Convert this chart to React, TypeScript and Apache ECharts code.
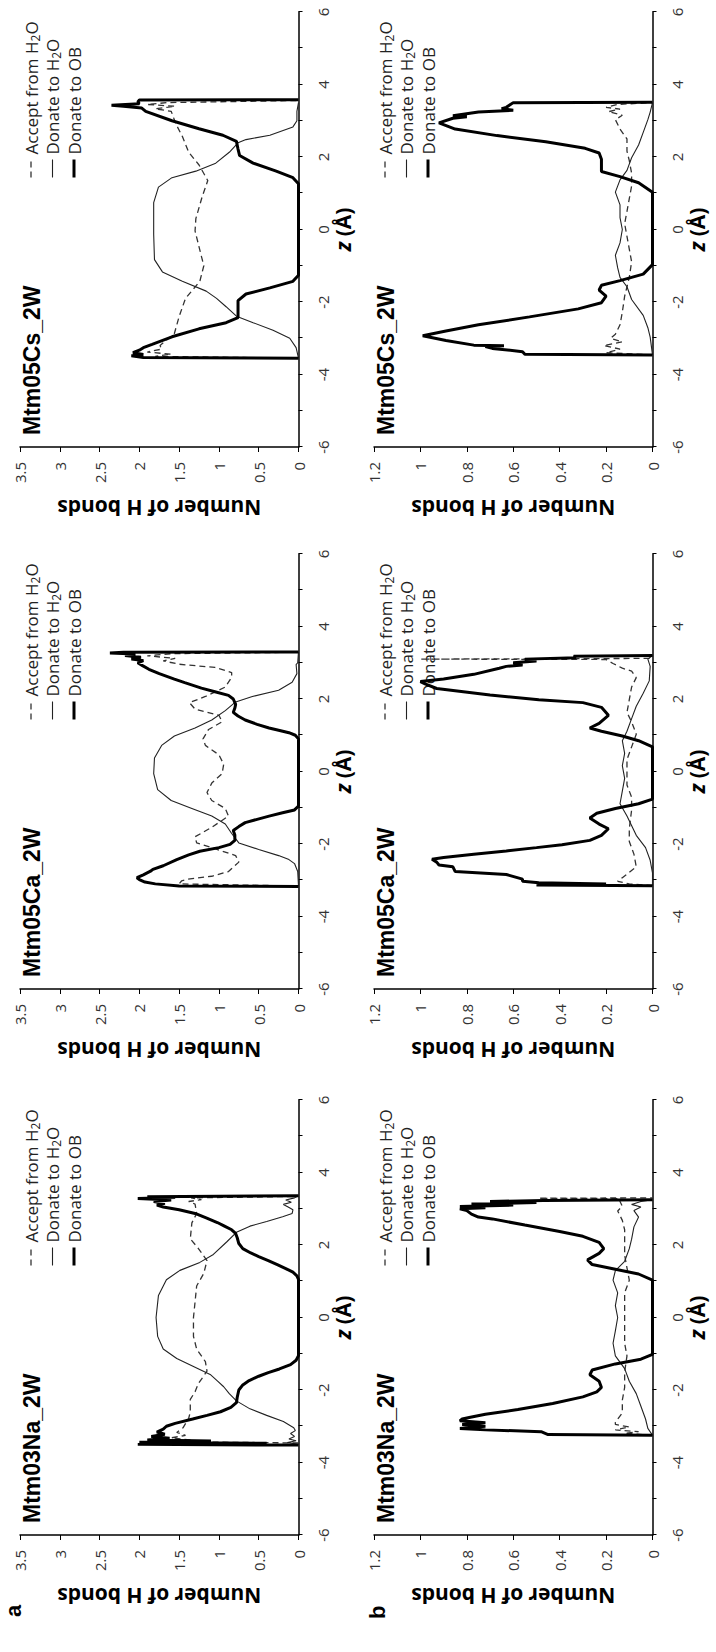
import React, { useEffect, useRef } from "react";
import * as echarts from "echarts";

// ---------------- text & axis values ----------------
const panelTitles = ["Mtm03Na_2W", "Mtm05Ca_2W", "Mtm05Cs_2W"];
const rowLetters = ["a", "b"];
const seriesNames = ["Accept from H2O", "Donate to H2O", "Donate to OB"];
const zMin = -6;
const zMax = 6;
const zInterval = 1;
const rowAxisMax = [3.5, 1.2];
const rowAxisInterval = [0.5, 0.2];
const yAxisName = "Number of H bonds";
const xAxisName = "{i|z} (Å)";

// ---------------- data: [z (Å), number of H bonds] ----------------
// Row a, Mtm03Na_2W
const naA_accept = [[-3.46,0],[-3.43,1.55],[-3.38,1.35],[-3.32,1.6],[-3.25,1.42],[-3.17,1.53],[-3.04,1.45],[-2.78,1.38],[-2.61,1.36],[-2.26,1.36],[-2.05,1.3],[-1.83,1.26],[-1.48,1.15],[-1.22,1.17],[-0.87,1.28],[-0.52,1.32],[0,1.32],[0.43,1.3],[0.87,1.28],[1.22,1.19],[1.57,1.15],[1.91,1.26],[2.17,1.36],[2.61,1.34],[2.87,1.28],[3.13,1.3],[3.2,1.38],[3.25,1.22],[3.3,1.35],[3.34,0]];
const naA_donateH2O = [[-3.5,0],[-3.45,0.14],[-3.4,0.03],[-3.35,0.12],[-3.28,0.05],[-3.2,0.1],[-3.12,0.04],[-3.04,0.06],[-2.87,0.19],[-2.7,0.4],[-2.52,0.61],[-2.3,0.78],[-2.1,0.87],[-1.91,0.94],[-1.75,1.02],[-1.57,1.11],[-1.35,1.32],[-1.13,1.53],[-0.87,1.7],[-0.52,1.77],[0,1.79],[0.61,1.76],[1.04,1.66],[1.3,1.49],[1.52,1.24],[1.74,1.07],[2.09,0.9],[2.35,0.78],[2.52,0.61],[2.65,0.4],[2.78,0.2],[2.87,0.08],[2.97,0.07],[3.05,0.13],[3.12,0.19],[3.18,0.09],[3.24,0.16],[3.3,0.05],[3.36,0]];
const naA_donateOB = [[-3.52,0],[-3.5,2.02],[-3.47,0.4],[-3.44,2.0],[-3.41,1.1],[-3.38,1.9],[-3.33,1.62],[-3.28,1.85],[-3.22,1.68],[-3.16,1.78],[-3.08,1.7],[-3.0,1.66],[-2.92,1.55],[-2.8,1.33],[-2.7,1.15],[-2.6,0.98],[-2.48,0.85],[-2.35,0.78],[-2.2,0.77],[-2.0,0.75],[-1.86,0.7],[-1.74,0.62],[-1.62,0.5],[-1.52,0.38],[-1.42,0.24],[-1.3,0.1],[-1.18,0.03],[-1.05,0],[1.05,0],[1.15,0.02],[1.25,0.07],[1.35,0.16],[1.45,0.26],[1.57,0.38],[1.68,0.5],[1.78,0.6],[1.9,0.7],[2.04,0.75],[2.2,0.77],[2.32,0.79],[2.42,0.84],[2.52,0.93],[2.62,1.02],[2.75,1.16],[2.87,1.3],[2.97,1.5],[3.05,1.7],[3.1,1.78],[3.15,1.68],[3.2,1.82],[3.24,1.6],[3.28,2.02],[3.31,1.55],[3.33,1.9],[3.36,0]];

// Row a, Mtm05Ca_2W
const caA_accept = [[-3.16,0],[-3.1,1.5],[-3.02,1.47],[-2.97,1.39],[-2.89,1.09],[-2.76,0.88],[-2.5,0.75],[-2.32,0.79],[-2.1,1.09],[-1.97,1.28],[-1.8,1.3],[-1.54,1.09],[-1.23,0.88],[-1.02,0.92],[-0.8,1.09],[-0.58,1.15],[-0.32,1.09],[-0.06,0.96],[0.2,0.94],[0.46,1.0],[0.72,1.17],[0.9,1.2],[1.16,1.13],[1.37,0.96],[1.55,1.0],[1.72,1.3],[1.9,1.37],[2.07,1.17],[2.33,0.92],[2.6,0.84],[2.73,0.84],[2.87,1.05],[2.96,1.5],[3.05,1.7],[3.12,1.55],[3.19,1.9],[3.25,1.6],[3.29,0]];
const caA_donateH2O = [[-3.16,0],[-2.76,0.01],[-2.54,0.05],[-2.43,0.12],[-2.32,0.25],[-2.15,0.5],[-1.97,0.75],[-1.71,0.84],[-1.45,0.92],[-1.23,1.09],[-1.02,1.34],[-0.8,1.6],[-0.5,1.77],[-0.06,1.82],[0.37,1.81],[0.72,1.72],[0.98,1.56],[1.2,1.3],[1.42,1.09],[1.68,0.92],[1.92,0.79],[2.07,0.58],[2.24,0.25],[2.46,0.08],[2.7,0.02],[2.95,0.03],[3.0,0.01],[3.3,0]];
const caA_donateOB = [[-3.17,0],[-3.16,1.5],[-3.1,1.8],[-3.05,1.93],[-2.98,2.0],[-2.93,2.03],[-2.85,1.95],[-2.75,1.86],[-2.7,1.83],[-2.6,1.7],[-2.43,1.53],[-2.3,1.38],[-2.2,1.24],[-2.1,1.0],[-2.01,0.86],[-1.9,0.8],[-1.75,0.8],[-1.63,0.82],[-1.52,0.75],[-1.41,0.67],[-1.32,0.52],[-1.23,0.37],[-1.14,0.2],[-1.06,0.05],[-0.95,0],[0.9,0],[1.0,0.04],[1.07,0.12],[1.14,0.25],[1.2,0.37],[1.3,0.52],[1.42,0.67],[1.53,0.76],[1.63,0.82],[1.75,0.8],[1.85,0.79],[2.0,0.82],[2.1,0.88],[2.2,1.05],[2.3,1.22],[2.45,1.43],[2.55,1.56],[2.7,1.75],[2.82,1.88],[2.92,1.96],[3.0,2.02],[3.06,1.95],[3.1,2.1],[3.15,1.98],[3.2,2.18],[3.24,2.05],[3.27,2.37],[3.29,2.2],[3.3,0]];

// Row a, Mtm05Cs_2W
const csA_accept = [[-3.55,0],[-3.5,1.8],[-3.44,1.6],[-3.38,1.9],[-3.3,1.72],[-3.2,1.74],[-2.87,1.56],[-2.4,1.5],[-1.9,1.42],[-1.43,1.24],[-1.0,1.19],[-0.48,1.25],[-0.04,1.3],[0.3,1.29],[0.91,1.21],[1.35,1.14],[1.78,1.25],[2.13,1.38],[2.57,1.46],[2.91,1.54],[3.26,1.6],[3.33,1.8],[3.4,1.55],[3.45,1.9],[3.5,1.65],[3.56,0]];
const csA_donateH2O = [[-3.55,0],[-3.26,0.03],[-3.0,0.11],[-2.78,0.32],[-2.57,0.57],[-2.39,0.78],[-2.13,0.91],[-1.9,1.03],[-1.7,1.16],[-1.43,1.46],[-1.17,1.71],[-0.83,1.81],[-0.13,1.82],[0.74,1.82],[1.17,1.76],[1.43,1.59],[1.61,1.29],[1.83,1.04],[2.13,0.87],[2.39,0.76],[2.48,0.66],[2.6,0.36],[2.83,0.07],[3.0,0.02],[3.26,0.02],[3.5,0]];
const csA_donateOB = [[-3.55,0],[-3.53,1.95],[-3.48,2.1],[-3.45,1.95],[-3.4,2.08],[-3.33,2.0],[-3.26,1.95],[-3.17,1.84],[-2.96,1.59],[-2.74,1.25],[-2.57,0.91],[-2.43,0.76],[-2.22,0.76],[-1.96,0.76],[-1.78,0.66],[-1.61,0.36],[-1.43,0.07],[-1.26,0],[1.26,0],[1.43,0.07],[1.61,0.28],[1.83,0.57],[2.04,0.74],[2.22,0.76],[2.43,0.78],[2.6,0.95],[2.78,1.25],[3.0,1.59],[3.26,1.92],[3.35,1.97],[3.4,2.2],[3.43,2.35],[3.47,2.0],[3.52,2.02],[3.57,2.0],[3.58,0]];

// Row b, Mtm03Na_2W
const naB_accept = [[-3.25,0],[-3.2,0.12],[-3.15,0.06],[-3.1,0.16],[-3.02,0.1],[-2.95,0.16],[-2.89,0.16],[-2.63,0.13],[-2.28,0.13],[-1.93,0.12],[-1.5,0.12],[-1.06,0.11],[-0.71,0.12],[-0.37,0.12],[0,0.12],[0.33,0.12],[0.68,0.12],[1.03,0.1],[1.37,0.11],[1.72,0.12],[2.07,0.12],[2.42,0.12],[2.68,0.13],[2.94,0.15],[3.07,0.13],[3.2,0.14],[3.28,0.14],[3.29,0.49],[3.3,0]];
const naB_donateH2O = [[-3.25,0],[-3.06,0.02],[-2.8,0.03],[-2.45,0.05],[-2.1,0.07],[-1.76,0.1],[-1.41,0.12],[-1.06,0.16],[-0.71,0.17],[-0.37,0.16],[0,0.15],[0.33,0.16],[0.68,0.15],[1.03,0.17],[1.29,0.16],[1.55,0.12],[1.9,0.1],[2.16,0.09],[2.5,0.08],[2.77,0.06],[2.95,0.08],[3.05,0.05],[3.12,0.09],[3.2,0.05],[3.25,0]];
const naB_donateOB = [[-3.25,0],[-3.23,0.45],[-3.15,0.48],[-3.1,0.72],[-3.06,0.83],[-3.0,0.72],[-2.95,0.82],[-2.9,0.72],[-2.85,0.83],[-2.8,0.82],[-2.76,0.79],[-2.67,0.72],[-2.54,0.58],[-2.37,0.43],[-2.19,0.3],[-2.05,0.24],[-1.93,0.22],[-1.76,0.23],[-1.58,0.27],[-1.45,0.26],[-1.28,0.16],[-1.15,0.05],[-1.02,0],[1.03,0],[1.2,0.06],[1.33,0.16],[1.46,0.26],[1.59,0.28],[1.77,0.23],[1.9,0.21],[2.07,0.23],[2.24,0.3],[2.37,0.4],[2.55,0.55],[2.72,0.69],[2.77,0.75],[2.85,0.78],[2.95,0.8],[3.0,0.83],[3.03,0.72],[3.06,0.83],[3.1,0.6],[3.13,0.78],[3.17,0.5],[3.2,0.7],[3.23,0.47],[3.25,0]];

// Row b, Mtm05Ca_2W
const caB_accept = [[-3.15,0],[-3.1,0.1],[-3.03,0.15],[-2.93,0.13],[-2.63,0.07],[-2.28,0.08],[-1.93,0.1],[-1.58,0.1],[-1.06,0.09],[-0.71,0.09],[-0.37,0.11],[0,0.11],[0.33,0.11],[0.68,0.09],[1.03,0.07],[1.37,0.09],[1.63,0.11],[1.98,0.1],[2.33,0.09],[2.59,0.07],[2.77,0.09],[2.85,0.13],[2.98,0.17],[3.09,0.2],[3.1,1.0],[3.12,0]];
const caB_donateH2O = [[-3.15,0],[-2.8,0.0],[-2.45,0.01],[-2.1,0.03],[-1.76,0.07],[-1.23,0.11],[-0.89,0.14],[-0.54,0.13],[-0.19,0.12],[0.16,0.13],[0.5,0.12],[0.85,0.13],[1.11,0.11],[1.46,0.09],[1.8,0.07],[2.16,0.04],[2.5,0.014],[2.9,0.01],[3.1,0.02],[3.2,0]];
const caB_donateOB = [[-3.15,0],[-3.13,0.5],[-3.1,0.2],[-3.07,0.49],[-3.03,0.56],[-2.97,0.56],[-2.84,0.63],[-2.76,0.85],[-2.63,0.86],[-2.58,0.92],[-2.5,0.93],[-2.42,0.95],[-2.37,0.9],[-2.28,0.77],[-2.19,0.63],[-2.1,0.5],[-2.02,0.39],[-1.9,0.27],[-1.76,0.22],[-1.58,0.19],[-1.45,0.23],[-1.28,0.27],[-1.15,0.24],[-1.02,0.16],[-0.89,0.06],[-0.76,0],[0.68,0],[0.85,0.06],[0.98,0.13],[1.11,0.22],[1.2,0.27],[1.33,0.23],[1.55,0.19],[1.77,0.22],[1.9,0.3],[1.98,0.49],[2.11,0.7],[2.29,0.93],[2.42,0.98],[2.48,1.0],[2.55,0.9],[2.68,0.77],[2.85,0.66],[2.9,0.63],[2.94,0.56],[3.0,0.6],[3.05,0.5],[3.1,0.55],[3.14,0.33],[3.18,0.34],[3.2,0]];

// Row b, Mtm05Cs_2W
const csB_accept = [[-3.46,0],[-3.4,0.2],[-3.3,0.14],[-3.2,0.21],[-3.1,0.13],[-3.0,0.18],[-2.89,0.16],[-2.63,0.14],[-2.28,0.13],[-1.84,0.12],[-1.32,0.1],[-0.89,0.09],[-0.54,0.1],[-0.19,0.11],[0.16,0.12],[0.5,0.11],[0.85,0.1],[1.2,0.09],[1.55,0.09],[1.9,0.1],[2.16,0.11],[2.5,0.11],[2.77,0.14],[3.03,0.16],[3.15,0.13],[3.25,0.19],[3.32,0.14],[3.37,0.2],[3.45,0.15],[3.5,0]];
const csB_donateH2O = [[-3.46,0],[-2.97,0.01],[-2.71,0.02],[-2.37,0.04],[-1.93,0.09],[-1.58,0.11],[-1.32,0.14],[-1.06,0.15],[-0.71,0.16],[-0.37,0.14],[0,0.13],[0.33,0.14],[0.68,0.14],[1.03,0.16],[1.37,0.14],[1.63,0.11],[1.98,0.09],[2.33,0.06],[2.68,0.04],[3.03,0.02],[3.24,0.01],[3.5,0]];
const csB_donateOB = [[-3.46,0],[-3.44,0.55],[-3.37,0.56],[-3.28,0.69],[-3.23,0.72],[-3.21,0.64],[-3.19,0.77],[-3.06,0.89],[-2.93,0.99],[-2.8,0.89],[-2.63,0.75],[-2.41,0.53],[-2.19,0.32],[-2.02,0.22],[-1.84,0.2],[-1.67,0.23],[-1.54,0.22],[-1.41,0.14],[-1.23,0.04],[-0.97,0],[1.03,0],[1.29,0.06],[1.46,0.14],[1.6,0.22],[1.68,0.22],[1.81,0.22],[1.94,0.22],[2.11,0.23],[2.24,0.29],[2.42,0.46],[2.59,0.67],[2.77,0.85],[2.94,0.92],[3.07,0.86],[3.11,0.8],[3.14,0.86],[3.24,0.75],[3.29,0.6],[3.33,0.65],[3.37,0.63],[3.5,0.6],[3.51,0]];

const rowData = [
  [
    [naA_accept, naA_donateH2O, naA_donateOB],
    [caA_accept, caA_donateH2O, caA_donateOB],
    [csA_accept, csA_donateH2O, csA_donateOB],
  ],
  [
    [naB_accept, naB_donateH2O, naB_donateOB],
    [caB_accept, caB_donateH2O, caB_donateOB],
    [csB_accept, csB_donateH2O, csB_donateOB],
  ],
];

// ---------------- layout (un-rotated figure, 1652 x 716) ----------------
const FIG_W = 1652;
const FIG_H = 716;
const gridLefts = [117, 663, 1205];
const gridW = 435;
const rowTops = [20, 374];
const gridH = 278.5;

const lineStyles: any[] = [
  { color: "#333", width: 1.3, type: [6, 4] },
  { color: "#222", width: 1.1, type: "solid" },
  { color: "#000", width: 3, type: "solid" },
];

const TICK_FONT = "'Open Sans', 'DejaVu Sans', sans-serif";
const BOLD_FONT = "'Open Sans', 'DejaVu Sans', sans-serif";
const TITLE_FONT = "'Liberation Sans', Arial, sans-serif";

function buildOption() {
  const grid: any[] = [];
  const xAxis: any[] = [];
  const yAxis: any[] = [];
  const series: any[] = [];
  const legend: any[] = [];
  const title: any[] = [];

  for (let r = 0; r < 2; r++) {
    for (let c = 0; c < 3; c++) {
      const idx = r * 3 + c;
      grid.push({
        left: gridLefts[c],
        top: rowTops[r],
        width: gridW,
        height: gridH,
        containLabel: false,
        outerBoundsMode: "none",
      });
      xAxis.push({
        gridIndex: idx,
        type: "value",
        min: zMin,
        max: zMax,
        interval: zInterval,
        axisLine: { show: true, onZero: false, lineStyle: { color: "#000", width: 1.5 } },
        axisTick: { show: true, inside: false, length: 4, lineStyle: { color: "#000", width: 1 } },
        axisLabel: {
          formatter: (v: number) => (Math.round(v) % 2 === 0 ? String(Math.round(v)) : ""),
          margin: 17,
          color: "#333",
          fontFamily: TICK_FONT,
          fontSize: 15,
        },
        splitLine: { show: false },
        name: xAxisName,
        nameLocation: "middle",
        nameGap: 34,
        nameTextStyle: {
          fontFamily: BOLD_FONT,
          fontWeight: "bold",
          fontSize: 21,
          color: "#000",
          rich: {
            i: { fontFamily: BOLD_FONT, fontWeight: "bold", fontStyle: "italic", fontSize: 21, color: "#000" },
          },
        },
      });
      yAxis.push({
        gridIndex: idx,
        type: "value",
        min: 0,
        max: rowAxisMax[r],
        interval: rowAxisInterval[r],
        axisLine: { show: true, onZero: false, lineStyle: { color: "#000", width: 1.5 } },
        axisTick: { show: true, inside: false, length: 5, lineStyle: { color: "#000", width: 1 } },
        axisLabel: { margin: 15, color: "#333", fontFamily: TICK_FONT, fontSize: 15 },
        splitLine: { show: false },
        name: yAxisName,
        nameLocation: "middle",
        nameRotate: 90,
        nameGap: 50,
        nameTextStyle: { fontFamily: BOLD_FONT, fontWeight: "bold", fontSize: 21, color: "#000" },
      });
      rowData[r][c].forEach((data, s) => {
        series.push({
          type: "line",
          name: seriesNames[s],
          xAxisIndex: idx,
          yAxisIndex: idx,
          data,
          showSymbol: false,
          symbol: "none",
          itemStyle: { color: lineStyles[s].color },
          lineStyle: lineStyles[s],
          z: 2 + s,
          silent: true,
        });
      });
      legend.push({
        orient: "vertical",
        left: gridLefts[c] + 268,
        top: rowTops[r] + 1,
        padding: 0,
        itemWidth: 18,
        itemHeight: 12,
        itemGap: 1.5,
        selectedMode: false,
        data: seriesNames.map((n, s) => ({
          name: n,
          lineStyle: { ...lineStyles[s] },
          itemStyle: { color: "rgba(0,0,0,0)", borderWidth: 0, opacity: 0 },
        })),
        formatter: (name: string) => name.replace("H2O", "H{s|2}O"),
        textStyle: {
          fontFamily: TICK_FONT,
          fontSize: 17,
          color: "#222",
          lineHeight: 20,
          rich: {
            s: { fontFamily: TICK_FONT, fontSize: 12, lineHeight: 10, verticalAlign: "bottom", color: "#222" },
          },
        },
      });
      title.push({
        text: panelTitles[c],
        left: gridLefts[c] + 12,
        top: rowTops[r],
        padding: 0,
        textStyle: { fontFamily: TITLE_FONT, fontWeight: "bold", fontSize: 23, color: "#000" },
      });
    }
  }
  title.push({
    text: rowLetters[0],
    left: 35,
    top: 2,
    padding: 0,
    textStyle: { fontFamily: TITLE_FONT, fontWeight: "bold", fontSize: 22, color: "#000" },
  });
  title.push({
    text: rowLetters[1],
    left: 33,
    top: 366,
    padding: 0,
    textStyle: { fontFamily: TITLE_FONT, fontWeight: "bold", fontSize: 22, color: "#000" },
  });

  return {
    animation: false,
    backgroundColor: "#fff",
    grid,
    xAxis,
    yAxis,
    series,
    legend,
    title,
  };
}

export default function App() {
  const ref = useRef<HTMLDivElement>(null);
  useEffect(() => {
    if (!ref.current) return;
    const chart = echarts.init(ref.current, null, { renderer: "svg", width: FIG_W, height: FIG_H });
    chart.setOption(buildOption() as any);
    return () => chart.dispose();
  }, []);
  return (
    <div
      style={{
        position: "absolute",
        left: 0,
        top: 0,
        width: FIG_H,
        height: FIG_W,
        overflow: "hidden",
        background: "#fff",
      }}
    >
      <div
        ref={ref}
        style={{
          position: "absolute",
          left: 0,
          top: 0,
          width: FIG_W,
          height: FIG_H,
          transformOrigin: "0 0",
          transform: `translate(0px, ${FIG_W}px) rotate(-90deg)`,
        }}
      />
    </div>
  );
}
